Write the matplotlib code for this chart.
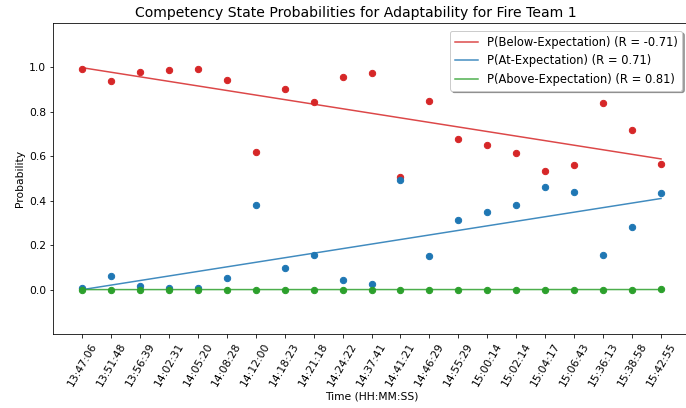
import numpy as np
import matplotlib
matplotlib.use("Agg")
import matplotlib.pyplot as plt

times = ["13:47:06", "13:51:48", "13:56:39", "14:02:31", "14:05:20", "14:08:28",
         "14:12:00", "14:18:23", "14:21:18", "14:24:22", "14:37:41", "14:41:21",
         "14:46:29", "14:55:29", "15:00:14", "15:02:14", "15:04:17", "15:06:43",
         "15:36:13", "15:38:58", "15:42:55"]

p_below = [0.995, 0.94, 0.98, 0.99, 0.995, 0.945, 0.62, 0.905, 0.845, 0.955, 0.975,
           0.505, 0.85, 0.68, 0.65, 0.615, 0.535, 0.56, 0.84, 0.72, 0.565]
p_at = [0.005, 0.06, 0.015, 0.005, 0.005, 0.05, 0.38, 0.095, 0.155, 0.045, 0.025,
        0.495, 0.15, 0.315, 0.35, 0.38, 0.46, 0.44, 0.155, 0.28, 0.435]
p_above = [0.0, 0.0, 0.0, 0.0, 0.0, 0.0, 0.0, 0.0, 0.0, 0.0, 0.0,
           0.0, 0.0, 0.0, 0.0, 0.0, 0.0, 0.0, 0.0, 0.0, 0.001]

series_names = ["P(Below-Expectation)", "P(At-Expectation)", "P(Above-Expectation)"]
r_values = [-0.71, 0.71, 0.81]
colors = ["#d62728", "#1f77b4", "#2ca02c"]

plt.rcParams["font.size"] = 10.7

fig = plt.figure(figsize=(686 / 72, 408 / 72), dpi=72)
ax = fig.add_axes([53 / 686, (408 - 334) / 408, (690 - 53) / 686, (334 - 23) / 408])

x = np.arange(len(times))
for vals, name, r, c in zip([p_below, p_at, p_above], series_names, r_values, colors):
    vals = np.array(vals)
    ax.scatter(x, vals, color=c, s=40, zorder=3)
    k, b = np.polyfit(x, vals, 1)
    ax.plot(x, k * x + b, color=c, alpha=0.85, lw=1.5, label=f"{name} (R = {r:.2f})")

ax.set_xticks(x)
ax.set_xticklabels(times, rotation=60)
ax.set_xlim(-1, len(times))
ax.set_ylim(-0.2, 1.2)
ax.set_yticks([0.0, 0.2, 0.4, 0.6, 0.8, 1.0])
ax.set_xlabel("Time (HH:MM:SS)", labelpad=3)
ax.set_ylabel("Probability")
ax.set_title("Competency State Probabilities for Adaptability for Fire Team 1",
             fontsize=14, x=0.476)
ax.legend(loc="upper right", shadow=True, fontsize=11.5,
          bbox_to_anchor=(0.997, 0.993))

fig.savefig("out.png", dpi=72)
